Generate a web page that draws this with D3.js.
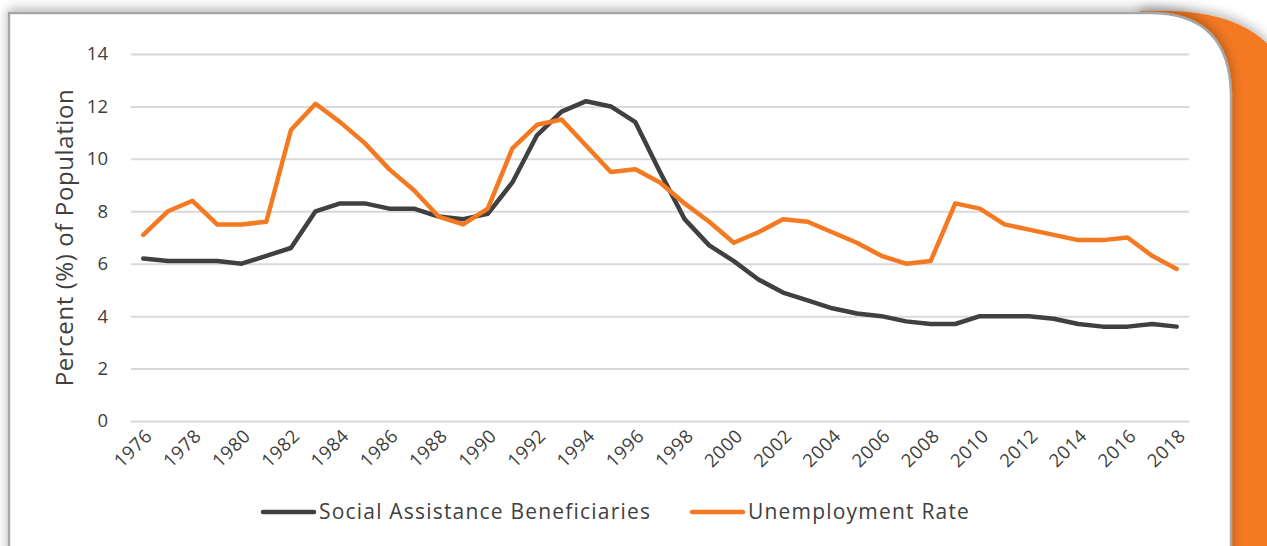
<!DOCTYPE html>
<html>
<head>
<meta charset="utf-8">
<script src="https://cdn.jsdelivr.net/npm/d3@7"></script>
<style>
  body { margin: 0; background: #fff; }
  svg { display: block; font-family: "Open Sans", sans-serif; }
</style>
</head>
<body>
<div id="chart"></div>
<script>
const width = 1267;
const height = 546;

// data
const years = d3.range(1976, 2019);
const socialAssistance = [6.2, 6.1, 6.1, 6.1, 6.0, 6.3, 6.6, 8.0, 8.3, 8.3,
  8.1, 8.1, 7.8, 7.7, 7.9, 9.1, 10.9, 11.8, 12.2, 12.0,
  11.4, 9.5, 7.7, 6.7, 6.1, 5.4, 4.9, 4.6, 4.3, 4.1,
  4.0, 3.8, 3.7, 3.7, 4.0, 4.0, 4.0, 3.9, 3.7, 3.6,
  3.6, 3.7, 3.6];
const unemployment = [7.1, 8.0, 8.4, 7.5, 7.5, 7.6, 11.1, 12.1, 11.4, 10.6,
  9.6, 8.8, 7.8, 7.5, 8.1, 10.4, 11.3, 11.5, 10.5, 9.5,
  9.6, 9.1, 8.3, 7.6, 6.8, 7.2, 7.7, 7.6, 7.2, 6.8,
  6.3, 6.0, 6.1, 8.3, 8.1, 7.5, 7.3, 7.1, 6.9, 6.9,
  7.0, 6.3, 5.8];
const yTicks = [0, 2, 4, 6, 8, 10, 12, 14];
const xTickYears = years.filter(y => (y - 1976) % 2 === 0);

const series = [
  { name: "Social Assistance Beneficiaries", values: socialAssistance, color: "#404040" },
  { name: "Unemployment Rate", values: unemployment, color: "#F47920" }
];

const svg = d3.select("#chart").append("svg")
  .attr("width", width)
  .attr("height", height);

const defs = svg.append("defs");
const shadow = defs.append("filter").attr("id", "shadow")
  .attr("x", "-5%").attr("y", "-10%").attr("width", "110%").attr("height", "120%");
shadow.append("feGaussianBlur").attr("in", "SourceAlpha").attr("stdDeviation", 6);
shadow.append("feOffset").attr("dx", 0).attr("dy", -3).attr("result", "b");
shadow.append("feComponentTransfer").append("feFuncA").attr("type", "linear").attr("slope", 0.3);
const mrg = shadow.append("feMerge");
mrg.append("feMergeNode");
mrg.append("feMergeNode").attr("in", "SourceGraphic");

// orange tab behind the panel
svg.append("path")
  .attr("d", "M1140,11 L1165,11 Q1290,11 1300,120 L1300,560 L1140,560 Z")
  .attr("fill", "#F47920")
  .attr("filter", "url(#shadow)");

// white panel with rounded top-right corner
svg.append("path")
  .attr("d", "M9,13 L1150,13 Q1230,13 1231,95 L1231,560 L9,560 Z")
  .attr("fill", "#fff")
  .attr("stroke", "#a6a6a6")
  .attr("stroke-width", 2.5)
  .attr("filter", "url(#shadow)");

const margin = { top: 54, right: 78, bottom: 125, left: 131 };

const x = d3.scaleBand()
  .domain(years)
  .range([margin.left, width - margin.right]);
const xc = d => x(d) + x.bandwidth() / 2;

const y = d3.scaleLinear()
  .domain([0, 14])
  .range([height - margin.bottom, margin.top]);

// gridlines + y labels
const yAxis = d3.axisLeft(y)
  .tickValues(yTicks)
  .tickSize(-(width - margin.left - margin.right))
  .tickPadding(23);

svg.append("g")
  .attr("transform", `translate(${margin.left},0)`)
  .call(yAxis)
  .attr("font-family", null)
  .call(g => g.select(".domain").remove())
  .call(g => g.selectAll("line").attr("stroke", "#d9d9d9").attr("stroke-width", 2))
  .call(g => g.selectAll("text")
    .attr("fill", "#404040")
    .attr("font-size", 18.5));

// x labels
const xAxis = d3.axisBottom(x)
  .tickValues(xTickYears)
  .tickSize(0)
  .tickPadding(0);

svg.append("g")
  .attr("transform", `translate(0,${height - margin.bottom})`)
  .call(xAxis)
  .attr("font-family", null)
  .call(g => g.select(".domain").remove())
  .call(g => g.selectAll("text")
    .attr("fill", "#404040")
    .attr("font-size", 18.5)
    .attr("letter-spacing", 0.6)
    .attr("text-anchor", "end")
    .attr("dy", 0)
    .attr("transform", "translate(10,16) rotate(-45)"));

// y title
svg.append("text")
  .attr("transform", `translate(73,${(y(0) + y(14)) / 2}) rotate(-90)`)
  .attr("text-anchor", "middle")
  .attr("fill", "#404040")
  .attr("font-size", 24)
  .attr("letter-spacing", 0.6)
  .text("Percent (%) of Population");

// lines
const line = d3.line()
  .x((d, i) => xc(years[i]))
  .y(d => y(d));

svg.append("g")
  .selectAll("path")
  .data(series)
  .enter()
  .append("path")
  .attr("d", d => line(d.values))
  .attr("fill", "none")
  .attr("stroke", d => d.color)
  .attr("stroke-width", 4.5)
  .attr("stroke-linejoin", "round")
  .attr("stroke-linecap", "round");

// legend
const legendX = [263, 692];
const legend = svg.append("g")
  .selectAll("g")
  .data(series)
  .enter()
  .append("g")
  .attr("transform", (d, i) => `translate(${legendX[i]},512)`);

legend.append("line")
  .attr("x1", 0).attr("x2", 51)
  .attr("stroke", d => d.color)
  .attr("stroke-width", 4.5)
  .attr("stroke-linecap", "round");

legend.append("text")
  .attr("x", 56)
  .attr("dy", "0.35em")
  .attr("fill", "#404040")
  .attr("font-size", 21)
  .attr("letter-spacing", 1.2)
  .text(d => d.name);
</script>
</body>
</html>
